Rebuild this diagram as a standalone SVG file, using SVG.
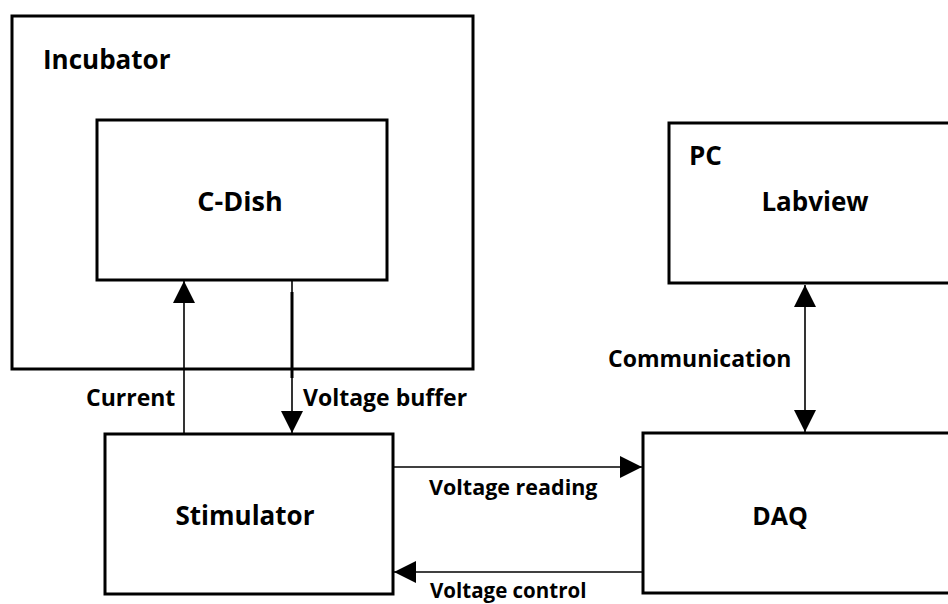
<svg xmlns="http://www.w3.org/2000/svg" width="948" height="604" viewBox="0 0 948 604">
<defs>
<style>
.box{fill:#fff;stroke:#000;stroke-width:3}
.t{font-family:"Open Sans","Liberation Sans",sans-serif;font-weight:bold;fill:#000}
.n{font-size:26px}
.l{font-size:23px}
.c{stroke:#000;stroke-width:1.6;fill:none}
</style>
<marker id="ah" viewBox="0 0 22 22" refX="22" refY="11" markerWidth="22" markerHeight="22" markerUnits="userSpaceOnUse" orient="auto-start-reverse">
<path d="M0,0 L22,11 L0,22 Z" fill="#000"/>
</marker>
</defs>
<rect width="948" height="604" fill="#fff"/>
<g id="incubator">
<rect class="box" x="12" y="16" width="461" height="353"/>
<text class="t n" x="43" y="69">Incubator</text>
</g>
<g id="cdish">
<rect class="box" x="97" y="120" width="290" height="160"/>
<text class="t n" x="240" y="211" text-anchor="middle" style="font-size:27px">C-Dish</text>
</g>
<g id="stimulator">
<rect class="box" x="105" y="434" width="288" height="160"/>
<text class="t n" x="245" y="525" text-anchor="middle">Stimulator</text>
</g>
<g id="pc">
<rect class="box" x="669" y="123" width="290" height="160"/>
<text class="t n" x="689" y="165">PC</text>
<text class="t n" x="815" y="211" text-anchor="middle">Labview</text>
</g>
<g id="daq">
<rect class="box" x="643" y="433" width="320" height="160"/>
<text class="t n" x="780" y="525" text-anchor="middle" style="font-size:25px">DAQ</text>
</g>
<g id="connectors">
<line class="c" x1="184" y1="434" x2="184" y2="281" marker-end="url(#ah)"/>
<line class="c" x1="292" y1="281" x2="292" y2="433" marker-end="url(#ah)"/>
<line x1="292" y1="292" x2="292" y2="378" stroke="#000" stroke-width="3"/>
<line class="c" x1="394" y1="467" x2="642" y2="467" marker-end="url(#ah)"/>
<line class="c" x1="642" y1="572" x2="394" y2="572" marker-end="url(#ah)"/>
<line class="c" x1="805" y1="285" x2="805" y2="432" marker-start="url(#ah)" marker-end="url(#ah)"/>
<text class="t l" x="86" y="406">Current</text>
<text class="t l" x="303" y="406">Voltage buffer</text>
<text class="t l" x="429" y="495" style="font-size:21.5px">Voltage reading</text>
<text class="t l" x="430" y="598" style="font-size:20.5px">Voltage control</text>
<text class="t l" x="608" y="367">Communication</text>
</g>
</svg>
